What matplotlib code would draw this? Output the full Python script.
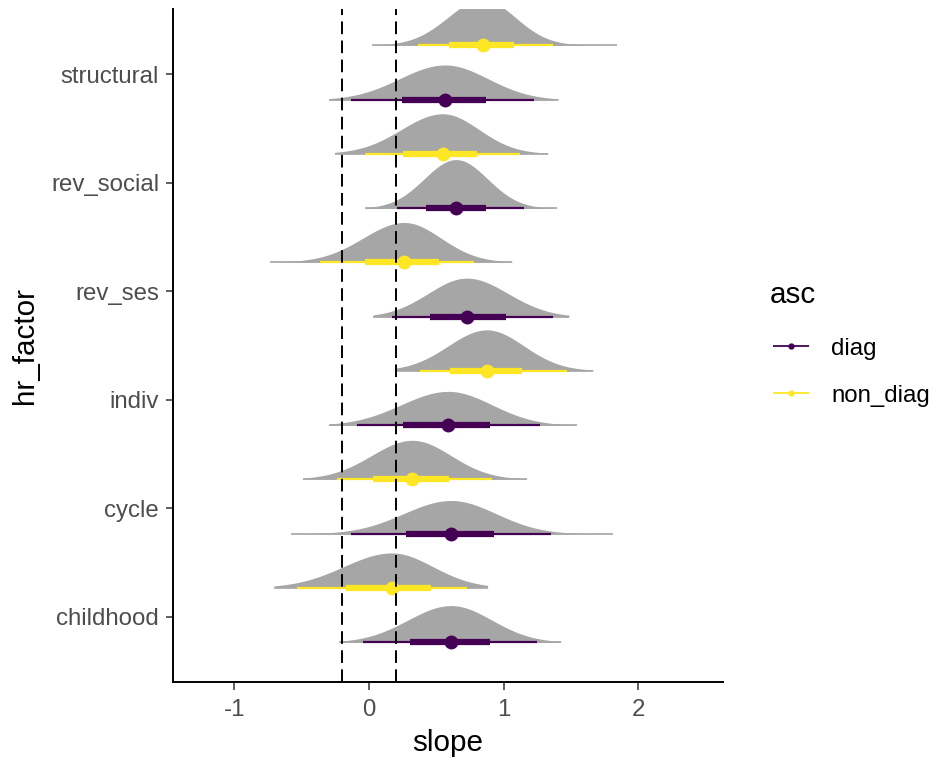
import numpy as np
import matplotlib
matplotlib.use("Agg")
import matplotlib.pyplot as plt
from matplotlib.lines import Line2D

plt.rcParams["font.family"] = ["Liberation Sans", "DejaVu Sans"]

# ---- data -------------------------------------------------------------
categories = ["childhood", "cycle", "indiv", "rev_ses", "rev_social", "structural"]
groups = ["diag", "non_diag"]

# posterior summaries of the slope, per hr_factor, group "diag"
diag_median = [0.609, 0.609, 0.589, 0.725, 0.646, 0.564]
diag_lo66 = [0.304, 0.273, 0.255, 0.453, 0.421, 0.243]
diag_hi66 = [0.898, 0.928, 0.898, 1.017, 0.869, 0.869]
diag_lo95 = [-0.042, -0.134, -0.087, 0.169, 0.206, -0.134]
diag_hi95 = [1.245, 1.349, 1.270, 1.364, 1.151, 1.227]
diag_min = [-0.223, -0.581, -0.297, 0.032, -0.030, -0.297]
diag_max = [1.423, 1.814, 1.542, 1.485, 1.394, 1.406]

# group "non_diag"
nondiag_median = [0.169, 0.322, 0.874, 0.262, 0.547, 0.844]
nondiag_lo66 = [-0.171, 0.032, 0.601, -0.030, 0.255, 0.596]
nondiag_hi66 = [0.460, 0.596, 1.138, 0.522, 0.804, 1.077]
nondiag_lo95 = [-0.537, -0.240, 0.379, -0.364, -0.030, 0.362]
nondiag_hi95 = [0.730, 0.913, 1.468, 0.780, 1.121, 1.364]
nondiag_min = [-0.703, -0.492, 0.200, -0.735, -0.255, 0.020]
nondiag_max = [0.881, 1.171, 1.666, 1.064, 1.331, 1.839]

rope = [-0.2, 0.2]
x_ticks = [-1, 0, 1, 2]
x_ticklabels = ["-1", "0", "1", "2"]

# ---- styling ----------------------------------------------------------
group_colors = {"diag": "#440154", "non_diag": "#FDE725"}
group_offset = {"diag": -0.235, "non_diag": 0.27}
slab_color = "#A6A6A6"
Z83 = 0.9542  # standard normal 83rd percentile (66% interval half-width)
MAX_THICK = 0.45

series = {
    "diag": dict(med=diag_median, lo66=diag_lo66, hi66=diag_hi66,
                 lo95=diag_lo95, hi95=diag_hi95, mn=diag_min, mx=diag_max),
    "non_diag": dict(med=nondiag_median, lo66=nondiag_lo66, hi66=nondiag_hi66,
                     lo95=nondiag_lo95, hi95=nondiag_hi95, mn=nondiag_min, mx=nondiag_max),
}


def split_normal(x, mode, sd_lo, sd_hi):
    sd = np.where(x < mode, sd_lo, sd_hi)
    peak = 2.0 / (np.sqrt(2 * np.pi) * (sd_lo + sd_hi))
    return peak * np.exp(-0.5 * ((x - mode) / sd) ** 2)


# common normalisation of slab thickness across all groups
peaks = []
for g in groups:
    s = series[g]
    for i in range(len(categories)):
        sl = (s["med"][i] - s["lo66"][i]) / Z83
        sh = (s["hi66"][i] - s["med"][i]) / Z83
        peaks.append(2.0 / (np.sqrt(2 * np.pi) * (sl + sh)))
thick_scale = MAX_THICK / max(peaks)

W, H = 940, 760
fig = plt.figure(figsize=(W / 100, H / 100), dpi=100)
left_px, right_px, top_px, bottom_px = 173.3, 723.2, 9.3, 682.0
ax = fig.add_axes([left_px / W, 1 - bottom_px / H,
                   (right_px - left_px) / W, (bottom_px - top_px) / H])

for g in groups:
    s = series[g]
    col = group_colors[g]
    for i, cat in enumerate(categories):
        base = i + 1 + group_offset[g]
        sl = (s["med"][i] - s["lo66"][i]) / Z83
        sh = (s["hi66"][i] - s["med"][i]) / Z83
        xs = np.linspace(s["mn"][i], s["mx"][i], 500)
        dens = split_normal(xs, s["med"][i], sl, sh) * thick_scale
        ax.fill_between(xs, base, base + dens, color=slab_color, lw=0, zorder=2)
        ax.plot([s["mn"][i], s["mx"][i]], [base, base], color=slab_color,
                lw=1.2, solid_capstyle="butt", zorder=2.5)
        ax.plot([s["lo95"][i], s["hi95"][i]], [base, base], color=col,
                lw=1.6, solid_capstyle="butt", zorder=3)
        ax.plot([s["lo66"][i], s["hi66"][i]], [base, base], color=col,
                lw=4.5, solid_capstyle="butt", zorder=3.1)
        ax.plot([s["med"][i]], [base], "o", ms=10, color=col, mec=col,
                mew=0, zorder=4)

for r in rope:
    ax.axvline(r, color="black", lw=1.4, ls=(0, (6.5, 3.3)), zorder=5)

ax.set_xlim(-1.453, 2.63)
ax.set_ylim(0.4, 6.6)
ax.set_xticks(x_ticks)
ax.set_xticklabels(x_ticklabels)
ax.set_yticks(np.arange(1, len(categories) + 1))
ax.set_yticklabels(categories)

for side in ("top", "right"):
    ax.spines[side].set_visible(False)
for side in ("left", "bottom"):
    ax.spines[side].set_linewidth(1.4)
    ax.spines[side].set_color("black")
ax.tick_params(axis="both", length=5.4, width=1.1, color="#333333",
               labelsize=17.3, labelcolor="#4D4D4D", pad=4.8)
ax.tick_params(axis="x", pad=6.5)

xl = ax.set_xlabel("slope", fontsize=21.3, color="black")
ax.xaxis.set_label_coords(448 / W, 1 - 751 / H, transform=fig.transFigure)
xl.set_va("baseline")
yl = ax.set_ylabel("hr_factor", fontsize=21.3, color="black")
ax.yaxis.set_label_coords(25 / W, 1 - 346 / H, transform=fig.transFigure)
yl.set_va("center")

# legend
fig.text(770 / W, 1 - 303 / H, "asc", fontsize=21.3, ha="left", va="baseline")
legend_rows = {"diag": (346.0, 355.0), "non_diag": (392.7, 401.7)}
for g in groups:
    ky, ty = legend_rows[g]
    fig.add_artist(Line2D([773 / W, 809 / W], [1 - ky / H, 1 - ky / H],
                          transform=fig.transFigure, color=group_colors[g],
                          lw=1.3, solid_capstyle="butt"))
    fig.add_artist(Line2D([791 / W], [1 - ky / H], transform=fig.transFigure,
                          marker="o", ms=3.5, color=group_colors[g], lw=0))
    fig.text(831 / W, 1 - ty / H, g, fontsize=17.3, ha="left", va="baseline")

fig.savefig("out.png", dpi=100, facecolor="white")
